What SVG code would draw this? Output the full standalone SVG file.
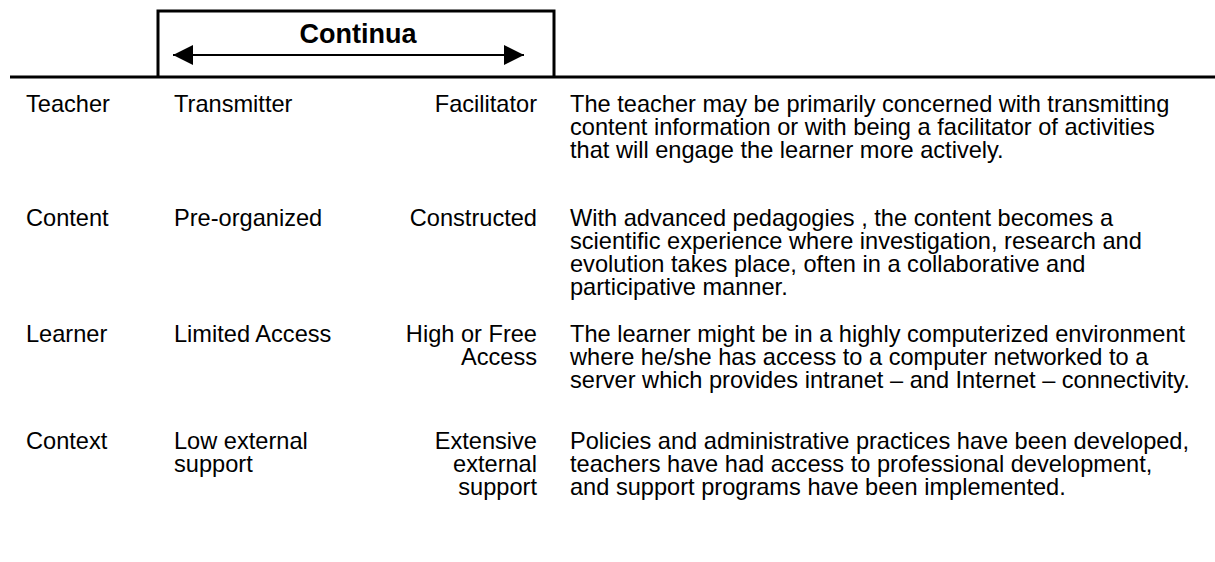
<svg xmlns="http://www.w3.org/2000/svg" width="1215" height="562" viewBox="0 0 1215 562">
<style>
text{font-family:"Liberation Sans",Arial,sans-serif;font-size:23.6px;fill:#000}
.r{text-anchor:end}
.h{font-weight:bold;font-size:27px;text-anchor:middle}
.ln{stroke:#000;stroke-width:3;fill:none}
</style>
<defs>
<marker id="ah" viewBox="0 0 20 20" refX="20" refY="10" markerWidth="20" markerHeight="20" markerUnits="userSpaceOnUse" orient="auto-start-reverse">
<path d="M0,0 L20,10 L0,20 Z" fill="#000"/>
</marker>
</defs>
<rect width="1215" height="562" fill="#fff"/>
<g id="header">
<path class="ln" d="M158,77 V11 H554 V77"/>
<text class="h" x="358" y="43">Continua</text>
<line class="ln" x1="10" y1="77" x2="1215" y2="77"/>
</g>
<g id="connectors">
<line x1="173" y1="55" x2="524" y2="55" stroke="#000" stroke-width="2" marker-start="url(#ah)" marker-end="url(#ah)"/>
</g>
<g id="teacher">
<text x="26" y="112">Teacher</text>
<text x="174" y="112">Transmitter</text>
<text class="r" x="537" y="112">Facilitator</text>
<text x="570" y="112">The teacher may be primarily concerned with transmitting</text>
<text x="570" y="135">content information or with being a facilitator of activities</text>
<text x="570" y="158">that will engage the learner more actively.</text>
</g>
<g id="content">
<text x="26" y="226">Content</text>
<text x="174" y="226">Pre-organized</text>
<text class="r" x="537" y="226">Constructed</text>
<text x="570" y="226">With advanced pedagogies , the content becomes a</text>
<text x="570" y="249">scientific experience where investigation, research and</text>
<text x="570" y="272">evolution takes place, often in a collaborative and</text>
<text x="570" y="295">participative manner.</text>
</g>
<g id="learner">
<text x="26" y="342">Learner</text>
<text x="174" y="342">Limited Access</text>
<text class="r" x="537" y="342">High or Free</text>
<text class="r" x="537" y="365">Access</text>
<text x="570" y="342">The learner might be in a highly computerized environment</text>
<text x="570" y="365">where he/she has access to a computer networked to a</text>
<text x="570" y="388">server which provides intranet – and Internet – connectivity.</text>
</g>
<g id="context">
<text x="26" y="449">Context</text>
<text x="174" y="449">Low external</text>
<text x="174" y="472">support</text>
<text class="r" x="537" y="449">Extensive</text>
<text class="r" x="537" y="472">external</text>
<text class="r" x="537" y="495">support</text>
<text x="570" y="449">Policies and administrative practices have been developed,</text>
<text x="570" y="472">teachers have had access to professional development,</text>
<text x="570" y="495">and support programs have been implemented.</text>
</g>
</svg>
